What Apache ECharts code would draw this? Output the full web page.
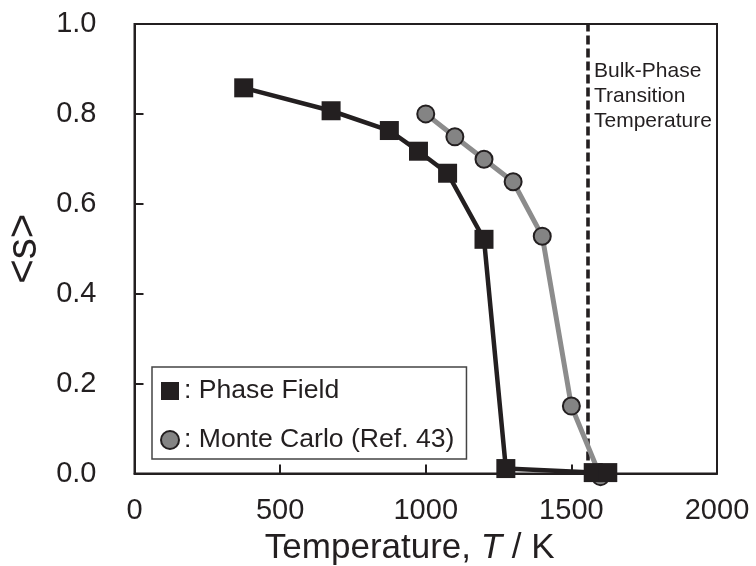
<!DOCTYPE html>
<html>
<head>
<meta charset="utf-8">
<script src="https://cdn.jsdelivr.net/npm/echarts@6/dist/echarts.min.js"></script>
<style>html,body{margin:0;padding:0;background:#fff;}#c{width:756px;height:566px;}</style>
</head>
<body>
<div id="c"></div>
<script>
const phaseT = [375, 675, 875, 975, 1075, 1200, 1275, 1575, 1625];
const phaseS = [0.858, 0.807, 0.763, 0.717, 0.668, 0.521, 0.011, 0.002, 0.002];
const mcT = [1000, 1100, 1200, 1300, 1400, 1500, 1600];
const mcS = [0.800, 0.749, 0.699, 0.649, 0.528, 0.150, -0.007];
const bulkT = 1555;
const xTicks = [0, 500, 1000, 1500, 2000];
const yTicks = [0.0, 0.2, 0.4, 0.6, 0.8, 1.0];
const seriesNames = ['Phase Field', 'Monte Carlo (Ref. 43)'];
const annotation = ['Bulk-Phase', 'Transition', 'Temperature'];

const FONT = '"Liberation Sans", Arial, Helvetica, sans-serif';
const DARK = '#231f20';

const chart = echarts.init(document.getElementById('c'), null, {renderer: 'canvas'});
chart.setOption({
  animation: false,
  backgroundColor: '#fff',
  grid: {left: 134.5, right: 39, top: 24, bottom: 92.5, show: true, borderColor: DARK, borderWidth: 2,
    backgroundColor: 'transparent', containLabel: false, outerBoundsMode: 'none'},
  xAxis: {
    type: 'value', min: xTicks[0], max: xTicks[xTicks.length - 1], interval: 500,
    name: 'Temperature, {i|T} / K',
    nameLocation: 'middle', nameGap: 51,
    nameTextStyle: {fontSize: 35, color: DARK, fontFamily: FONT, padding: [0, 32, 0, 0],
      rich: {i: {fontStyle: 'italic', fontSize: 35, color: DARK, fontFamily: FONT}}},
    axisLine: {show: true, lineStyle: {color: DARK, width: 2}},
    axisTick: {show: true, inside: true, length: 9, lineStyle: {color: DARK, width: 2}},
    axisLabel: {fontSize: 29, color: DARK, fontFamily: FONT, margin: 23, formatter: v => String(v)},
    splitLine: {show: false}
  },
  yAxis: {
    type: 'value', min: yTicks[0], max: yTicks[yTicks.length - 1], interval: 0.2,
    name: '<s>', nameLocation: 'middle', nameGap: 84, nameRotate: 90,
    nameTextStyle: {fontSize: 42, color: DARK, fontFamily: FONT},
    axisLine: {show: true, lineStyle: {color: DARK, width: 2}},
    axisTick: {show: true, inside: true, length: 9, lineStyle: {color: DARK, width: 2}},
    axisLabel: {fontSize: 29, color: DARK, fontFamily: FONT, margin: 38, formatter: v => v.toFixed(1)},
    splitLine: {show: false}
  },
  legend: {
    orient: 'vertical', left: 152, top: 367,
    padding: [9, 12, 4, 8], itemGap: 19,
    itemWidth: 18, itemHeight: 18,
    borderColor: '#444', borderWidth: 1.5, backgroundColor: '#fff',
    formatter: ': {name}',
    textStyle: {fontSize: 26.6, color: DARK, fontFamily: FONT, lineHeight: 30},
    data: [
      {name: seriesNames[0], icon: 'rect'},
      {name: seriesNames[1], icon: 'circle'}
    ]
  },
  series: [
    {
      name: seriesNames[1], type: 'line', clip: false, z: 3,
      data: mcT.map((t, i) => [t, mcS[i]]),
      symbol: 'circle', symbolSize: 17,
      lineStyle: {color: '#8c8c8c', width: 5},
      itemStyle: {color: '#848484', borderColor: DARK, borderWidth: 2}
    },
    {
      name: seriesNames[0], type: 'line', clip: false, z: 4,
      data: phaseT.map((t, i) => [t, phaseS[i]]),
      symbol: 'rect', symbolSize: 19,
      lineStyle: {color: DARK, width: 4.5},
      itemStyle: {color: DARK, borderColor: DARK, borderWidth: 0},
      markLine: {
        silent: true, symbol: 'none', z: 2,
        label: {show: false},
        lineStyle: {color: DARK, width: 3.6, type: [9, 4]},
        data: [{xAxis: bulkT}]
      }
    }
  ],
  graphic: [{
    type: 'text', left: 594, top: 59, z: 10,
    style: {text: annotation.join('\n'), font: '21px ' + FONT, fill: DARK, lineHeight: 25}
  }]
});
</script>
</body>
</html>
